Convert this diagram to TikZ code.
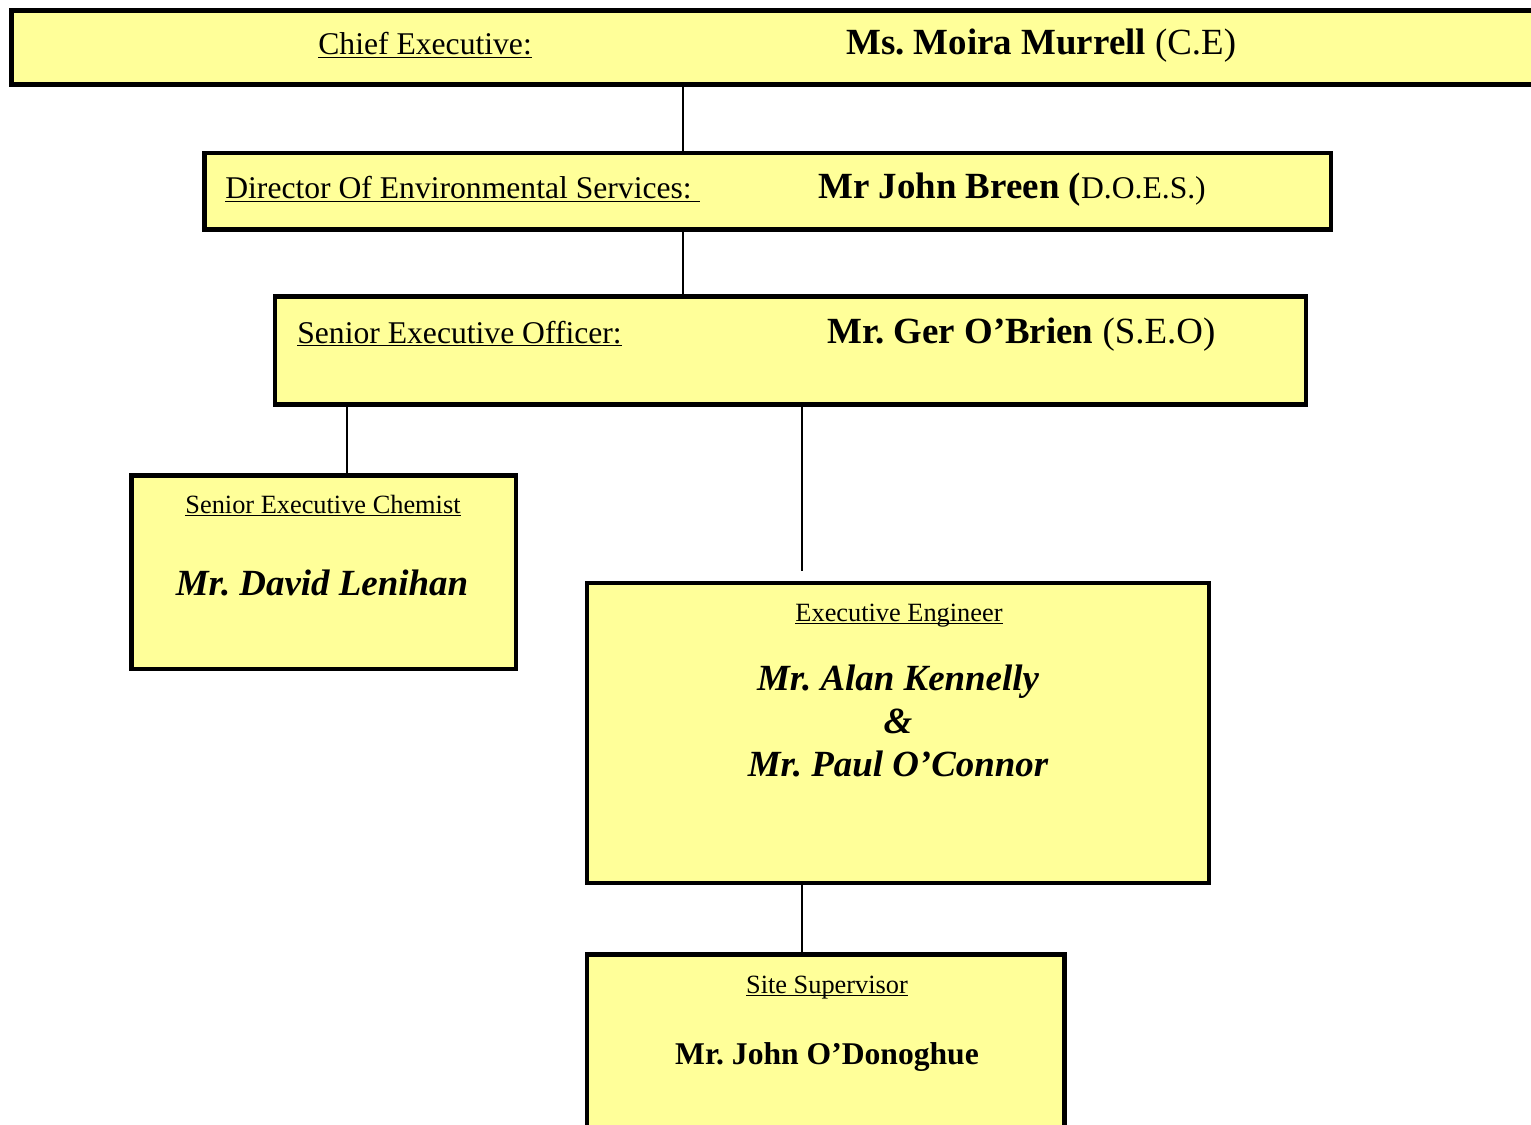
\documentclass[tikz,border=0pt]{standalone}
\usepackage{fontspec}
\setmainfont{Liberation Serif}
\usepackage{xcolor}
\usetikzlibrary{positioning}
\definecolor{boxyellow}{RGB}{255,255,153}
\newcommand{\ulined}[1]{\underline{\smash{#1}}}

\begin{document}
\frenchspacing
\begin{tikzpicture}[x=0.02cm, y=-0.02cm, every node/.style={font=\normalfont}]
    % Define styles
    \tikzstyle{orgbox} = [rectangle, draw=black, fill=boxyellow, line width=2.6pt, inner sep=0pt, outer sep=0pt]
    \tikzstyle{roletext} = [inner sep=0pt, anchor=base west, font=\fontsize{18}{22}\selectfont]
    \tikzstyle{subrole} = [inner sep=0pt, anchor=base, font=\fontsize{15}{18}\selectfont]
    \tikzstyle{staffname} = [inner sep=0pt, anchor=base, align=center, font=\fontsize{21}{24.4}\selectfont\bfseries\itshape]
    \tikzstyle{link} = [line width=0.8pt, black]

    \useasboundingbox (0,0) rectangle (1531,1125);
    \clip (0,0) rectangle (1531,1125);

    % Boxes
    \node (chief) [orgbox, minimum width=30.67cm, minimum height=1.48cm] at (778,47.5) {};
    \node (does) [orgbox, minimum width=22.53cm, minimum height=1.53cm] at (767.75,191.25) {};
    \node (seo) [orgbox, minimum width=20.62cm, minimum height=2.16cm] at (790.5,350.5) {};
    \node (chem) [orgbox, minimum width=7.69cm, minimum height=3.87cm] at (323.75,572.25) {};
    \node (eng) [orgbox, minimum width=12.44cm, minimum height=6cm] at (898,733) {};
    \node (site) [orgbox, minimum width=9.55cm, minimum height=3.71cm] at (825.75,1047.25) {};

    % Top three posts - title and holder on one line
    \node (chieftitle) [roletext] at (318,55) {\ulined{Chief Executive:}};
    \node (chiefname) [roletext, font=\fontsize{21}{24}\selectfont] at (846,55) {\textbf{Ms. Moira Murrell} (C.E)};
    \node (doestitle) [roletext] at (225,199) {\ulined{Director Of Environmental Services:\ }};
    \node (doesname) [roletext] at (818,199) {{\fontsize{21}{24}\selectfont\bfseries Mr John Breen (}D.O.E.S.)};
    \node (seotitle) [roletext] at (297,343) {\ulined{Senior Executive Officer:}};
    \node (seoname) [roletext, font=\fontsize{21}{24}\selectfont] at (827,343) {\textbf{Mr. Ger O’Brien} (S.E.O)};

    % Lower posts - title above holder
    \node (chemtitle) [subrole] at (323,513) {\ulined{Senior Executive Chemist}};
    \node (chemname) [staffname] at (322,595) {Mr. David Lenihan};
    \node (engtitle) [subrole] at (899,621) {\ulined{Executive Engineer}};
    \node (engname) [staffname, anchor=north] at (898,665) {Mr. Alan Kennelly\\\&\\Mr. Paul O’Connor};
    \node (sitetitle) [subrole] at (827,993) {\ulined{Site Supervisor}};
    \node (sitename) [staffname, font=\fontsize{18}{22}\selectfont\bfseries] at (827,1064) {Mr. John O’Donoghue};

    % Connector positions
    \coordinate (c1) at (683,0);
    \coordinate (c2) at (347,0);
    \coordinate (c3) at (802,0);
    \coordinate (tip) at (802,571);

    % Reporting lines
    \draw [link] (c1 |- chief.south) -- (c1 |- does.north);
    \draw [link] (c1 |- does.south) -- (c1 |- seo.north);
    \draw [link] (c2 |- seo.south) -- (c2 |- chem.north);
    \draw [link] (c3 |- seo.south) -- (tip);
    \draw [link] (c3 |- eng.south) -- (c3 |- site.north);
\end{tikzpicture}
\end{document}
